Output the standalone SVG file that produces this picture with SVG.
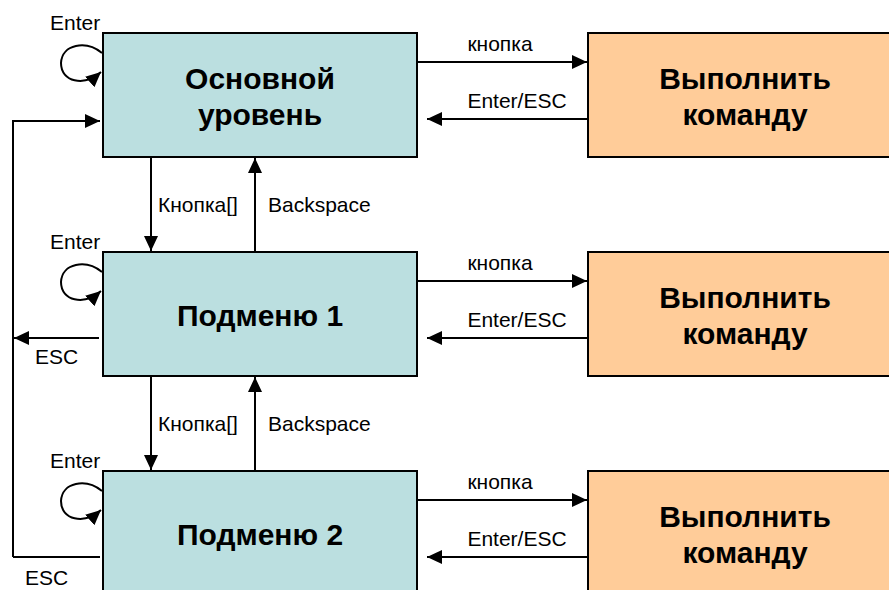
<svg xmlns="http://www.w3.org/2000/svg" width="889" height="590" viewBox="0 0 889 590">
<defs>
<style>
.menu{fill:#BBDFE0;stroke:#000;stroke-width:2}
.cmd{fill:#FFCC99;stroke:#000;stroke-width:2}
.big{font-family:"Liberation Sans",Arial,sans-serif;font-weight:bold;font-size:30px;fill:#000;text-anchor:middle}
.lbl{font-family:"Liberation Sans",Arial,sans-serif;font-size:21px;fill:#000}
.ln{fill:none;stroke:#000;stroke-width:2}
.arr{fill:none;stroke:#000;stroke-width:2;marker-end:url(#ah)}
</style>
<marker id="ah" markerUnits="userSpaceOnUse" markerWidth="18" markerHeight="16" refX="15" refY="7" orient="auto">
<path d="M0,0 L15,7 L0,14 z" fill="#000"/>
</marker>
</defs>
<rect width="889" height="590" fill="#fff"/>
<g id="main">
<rect class="menu" x="103" y="33" width="314" height="124"/>
<text class="big" x="260" y="89">Основной</text>
<text class="big" x="260" y="125">уровень</text>
</g>
<g id="sub1">
<rect class="menu" x="103" y="252" width="314" height="124"/>
<text class="big" x="260" y="326">Подменю 1</text>
</g>
<g id="sub2">
<rect class="menu" x="103" y="471" width="314" height="130"/>
<text class="big" x="260" y="545">Подменю 2</text>
</g>
<g id="cmd1">
<rect class="cmd" x="588" y="33" width="314" height="124"/>
<text class="big" x="745" y="89">Выполнить</text>
<text class="big" x="745" y="125">команду</text>
</g>
<g id="cmd2">
<rect class="cmd" x="588" y="252" width="314" height="124"/>
<text class="big" x="745" y="308">Выполнить</text>
<text class="big" x="745" y="344">команду</text>
</g>
<g id="cmd3">
<rect class="cmd" x="588" y="471" width="314" height="130"/>
<text class="big" x="745" y="527">Выполнить</text>
<text class="big" x="745" y="563">команду</text>
</g>
<g id="connectors">
<g id="row1">
<path class="arr" d="M102,53 C86,40 62,44 61,63 C61,82 84,87 101,72"/>
<text class="lbl" x="50" y="30">Enter</text>
<line class="arr" x1="417" y1="62" x2="587" y2="62"/>
<text class="lbl" x="500" y="51" text-anchor="middle" font-size="19">кнопка</text>
<line class="arr" x1="588" y1="119" x2="427" y2="119"/>
<text class="lbl" x="517" y="108" text-anchor="middle">Enter/ESC</text>
<line class="arr" x1="151" y1="157" x2="151" y2="251"/>
<text class="lbl" x="158" y="212">Кнопка[]</text>
<line class="arr" x1="255" y1="252" x2="255" y2="158"/>
<text class="lbl" x="268" y="212">Backspace</text>
</g>
<g id="row2" transform="translate(0,219)">
<path class="arr" d="M102,53 C86,40 62,44 61,63 C61,82 84,87 101,72"/>
<text class="lbl" x="50" y="30">Enter</text>
<line class="arr" x1="417" y1="62" x2="587" y2="62"/>
<text class="lbl" x="500" y="51" text-anchor="middle" font-size="19">кнопка</text>
<line class="arr" x1="588" y1="119" x2="427" y2="119"/>
<text class="lbl" x="517" y="108" text-anchor="middle">Enter/ESC</text>
<line class="arr" x1="151" y1="157" x2="151" y2="251"/>
<text class="lbl" x="158" y="212">Кнопка[]</text>
<line class="arr" x1="255" y1="252" x2="255" y2="158"/>
<text class="lbl" x="268" y="212">Backspace</text>
</g>
<g id="row3" transform="translate(0,438)">
<path class="arr" d="M102,53 C86,40 62,44 61,63 C61,82 84,87 101,72"/>
<text class="lbl" x="50" y="30">Enter</text>
<line class="arr" x1="417" y1="62" x2="587" y2="62"/>
<text class="lbl" x="500" y="51" text-anchor="middle" font-size="19">кнопка</text>
<line class="arr" x1="588" y1="119" x2="427" y2="119"/>
<text class="lbl" x="517" y="108" text-anchor="middle">Enter/ESC</text>
</g>
<g id="esc">
<path class="arr" d="M13,557 L13,121 L100,121"/>
<line class="ln" x1="13" y1="557" x2="100" y2="557"/>
<line class="arr" x1="99" y1="338" x2="14" y2="338"/>
<text class="lbl" x="35" y="364">ESC</text>
<text class="lbl" x="25" y="585">ESC</text>
</g>
</g>
</svg>
